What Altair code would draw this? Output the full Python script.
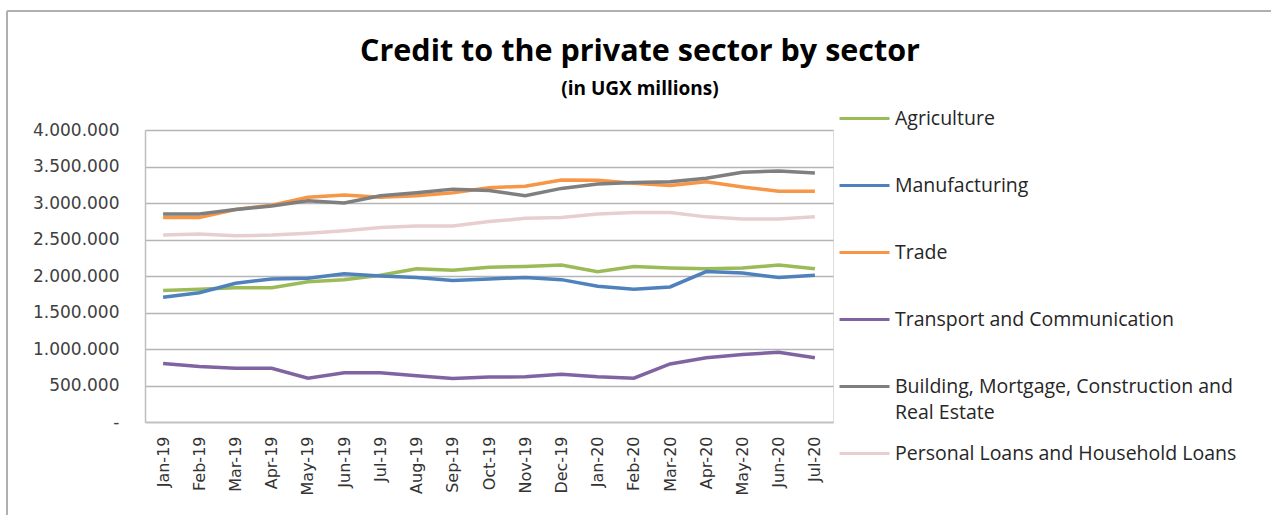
import altair as alt
import pandas as pd

months = ["Jan-19", "Feb-19", "Mar-19", "Apr-19", "May-19", "Jun-19", "Jul-19",
          "Aug-19", "Sep-19", "Oct-19", "Nov-19", "Dec-19", "Jan-20", "Feb-20",
          "Mar-20", "Apr-20", "May-20", "Jun-20", "Jul-20"]

agriculture = [1800000, 1820000, 1840000, 1840000, 1920000, 1950000, 2010000,
               2100000, 2080000, 2120000, 2130000, 2150000, 2060000, 2130000,
               2110000, 2100000, 2110000, 2150000, 2100000]
manufacturing = [1710000, 1770000, 1900000, 1960000, 1970000, 2030000, 2000000,
                 1980000, 1940000, 1960000, 1980000, 1950000, 1860000, 1820000,
                 1850000, 2060000, 2040000, 1980000, 2010000]
trade = [2800000, 2800000, 2910000, 2970000, 3080000, 3110000, 3080000,
         3100000, 3140000, 3210000, 3230000, 3315000, 3310000, 3270000,
         3240000, 3290000, 3220000, 3160000, 3160000]
transport = [800000, 760000, 735000, 735000, 600000, 675000, 675000,
             635000, 595000, 615000, 620000, 655000, 620000, 600000,
             795000, 880000, 925000, 955000, 880000]
building = [2850000, 2850000, 2910000, 2960000, 3030000, 3000000, 3100000,
            3140000, 3190000, 3170000, 3100000, 3200000, 3260000, 3280000,
            3290000, 3340000, 3420000, 3440000, 3410000]
personal = [2560000, 2575000, 2550000, 2560000, 2585000, 2620000, 2665000,
            2685000, 2685000, 2745000, 2790000, 2800000, 2850000, 2870000,
            2870000, 2810000, 2780000, 2780000, 2810000]

series_names = ["Agriculture", "Manufacturing", "Trade", "Transport and Communication",
                "Building, Mortgage, Construction and Real Estate",
                "Personal Loans and Household Loans"]
series_values = [agriculture, manufacturing, trade, transport, building, personal]
series_colors = ["#9BBB59", "#4F81BD", "#F79646", "#8064A2", "#7F7F7F", "#E8CFCF"]

title_text = "Credit to the private sector by sector"
subtitle_text = "(in UGX millions)"

rows = []
for name, vals in zip(series_names, series_values):
    for m, v in zip(months, vals):
        rows.append({"month": m, "sector": name, "value": v})
df = pd.DataFrame(rows)
df_main = df[df["sector"] != series_names[5]]
df_pers = df[df["sector"] == series_names[5]]

y_label_expr = (
    "datum.value == 0 ? '-' : (datum.value >= 1000000 ? "
    "format(floor(datum.value/1000000),'d') + '.' + format(floor(datum.value/1000)%1000,'03d') + '.000'"
    " : format(datum.value/1000,'d') + '.000')"
)

legend_label_expr = (
    "datum.label == 'Building, Mortgage, Construction and Real Estate' ? "
    "['Building, Mortgage, Construction and', 'Real Estate'] : datum.label"
)

x_enc = alt.X("month:N", sort=months, scale=alt.Scale(type="point", padding=0.5),
              axis=alt.Axis(title=None, labelAngle=-90, ticks=False, grid=False,
                            domainColor="#BFBFBF", domainWidth=1.5,
                            labelFont="DejaVu Sans", labelFontSize=16,
                            labelColor="#333333", labelPadding=14))
y_enc = alt.Y("value:Q", scale=alt.Scale(domain=[0, 4000000]),
              axis=alt.Axis(title=None, values=[0, 500000, 1000000, 1500000, 2000000,
                                                2500000, 3000000, 3500000, 4000000],
                            labelExpr=y_label_expr, ticks=False,
                            gridColor="#B5B5B5", gridWidth=1.5,
                            domainColor="#BFBFBF", domainWidth=1.5,
                            labelFont="DejaVu Sans", labelFontSize=17,
                            labelColor="#404040", labelPadding=26))

legend_common = dict(title=None, orient="none", legendX=693,
                     symbolType="stroke", symbolSize=2500, symbolStrokeWidth=3,
                     labelOffset=4, labelFont="Open Sans", labelFontSize=19.5,
                     labelColor="#262626", labelLimit=500)

lines_main = alt.Chart(df_main).mark_line(strokeWidth=3.5).encode(
    x=x_enc, y=y_enc,
    color=alt.Color("sector:N", sort=series_names[:5],
                    scale=alt.Scale(domain=series_names[:5], range=series_colors[:5]),
                    legend=alt.Legend(legendY=-38, rowPadding=31,
                                      labelExpr=legend_label_expr, **legend_common)),
)

lines_pers = alt.Chart(df_pers).mark_line(strokeWidth=3.5).encode(
    x=x_enc, y=y_enc,
    color=alt.Color("sector:N",
                    scale=alt.Scale(domain=series_names[5:], range=series_colors[5:]),
                    legend=alt.Legend(legendY=297, **legend_common)),
)

one = pd.DataFrame({"k": [0]})
frame_v = alt.Chart(one).mark_rule(color="#B0B0B0", strokeWidth=2).encode(
    x=alt.value(-138), y=alt.value(-119), y2=alt.value(400))
frame_h = alt.Chart(one).mark_rule(color="#B0B0B0", strokeWidth=2).encode(
    x=alt.value(-138), x2=alt.value(1140), y=alt.value(-119))

title = alt.Chart(one).mark_text(font="Open Sans", fontSize=30.5, fontWeight="bold",
                                 color="#000000", align="center",
                                 baseline="alphabetic").encode(
    x=alt.value(495), y=alt.value(-69), text=alt.value(title_text))
subtitle = alt.Chart(one).mark_text(font="Open Sans", fontSize=19, fontWeight="bold",
                                    color="#000000", align="center",
                                    baseline="alphabetic").encode(
    x=alt.value(495), y=alt.value(-35), text=alt.value(subtitle_text))

chart = alt.layer(frame_v, frame_h, title, subtitle, lines_main, lines_pers).resolve_scale(
    color="independent"
).properties(
    width=688, height=292,
    autosize=alt.AutoSizeParams(type="none"),
    padding={"left": 145, "top": 130, "right": 438, "bottom": 93},
).configure_view(stroke=None).configure(
    style={"guide-label": {"lineHeight": 26}}
)

chart.save("out.html", embed_options={"renderer": "svg", "actions": False})
